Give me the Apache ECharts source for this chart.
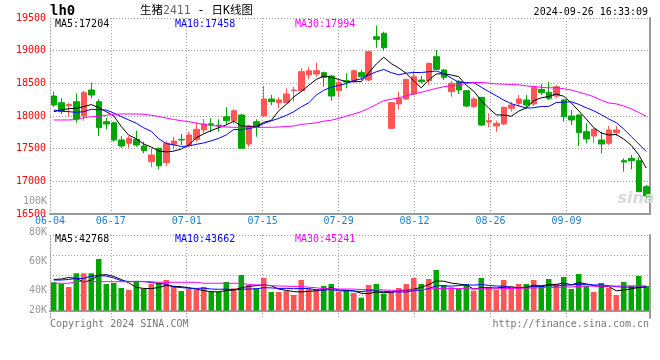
<!DOCTYPE html>
<html><head><meta charset="utf-8">
<script src="https://cdn.jsdelivr.net/npm/echarts@6/dist/echarts.min.js"></script>
<style>html,body{margin:0;padding:0;background:#fff}#c{width:660px;height:360px}</style>
</head><body><div id="c"></div><script>
const dates = ['06-04','06-05','06-06','06-07','06-11','06-12','06-13','06-14','06-17','06-18','06-19','06-20','06-21','06-24','06-25','06-26','06-27','06-28',
'07-01','07-02','07-03','07-04','07-05','07-08','07-09','07-10','07-11','07-12','07-15','07-16','07-17','07-18','07-19','07-22','07-23','07-24','07-25','07-26','07-29','07-30','07-31',
'08-01','08-02','08-05','08-06','08-07','08-08','08-09','08-12','08-13','08-14','08-15','08-16','08-19','08-20','08-21','08-22','08-23','08-26','08-27','08-28','08-29','08-30',
'09-02','09-03','09-04','09-05','09-06','09-09','09-10','09-11','09-12','09-13','09-18','09-19','09-20','09-23','09-24','09-25','09-26'];
const labelDates = ['06-04','06-17','07-01','07-15','07-29','08-12','08-26','09-09'];

const openP = [18306,18203,18160,18219,18000,18398,18219,17913,17897,17633,17582,17643,17541,17301,17506,17285,17566,17643,17556,17643,
17786,17880,17860,17989,17928,18015,17571,17913,18000,18260,18204,18204,18387,18387,18628,18643,18663,18612,18387,18540,
18531,18663,18551,19214,19266,17812,18184,18260,18337,18551,18540,18908,18704,18372,18525,18387,18143,18286,17908,17847,
17878,18118,18194,18245,18184,18408,18363,18306,18245,18000,18015,17760,17694,17633,17582,17745,17316,17352,17316,16918];
const closeP = [18168,18066,18175,17954,18357,18321,17821,17877,17633,17541,17658,17556,17469,17403,17239,17582,17617,17633,17709,17796,
17878,17870,17850,17928,18081,17506,17847,17827,18260,18219,18245,18337,18398,18678,18693,18693,18592,18306,18510,18520,
18693,18602,18984,19174,19045,18203,18271,18562,18601,18525,18806,18714,18592,18500,18398,18153,18260,17862,17928,17888,
18133,18168,18260,18168,18439,18357,18271,18448,17989,17939,17745,17648,17796,17571,17786,17786,17296,17316,16841,16776];
const lowP = [18142,18031,17989,17897,17928,18271,17694,17796,17607,17510,17515,17530,17429,17215,17184,17235,17490,17556,17530,17607,
17735,17755,17760,17862,17877,17506,17530,17683,17989,18168,18118,18194,18219,18372,18562,18601,18449,18234,18286,18424,
18513,18551,18536,19045,19000,17796,18102,18245,18321,18500,18474,18704,18551,18295,18337,18133,18118,17847,17827,17760,
17862,18066,18143,18118,18153,18321,18245,18271,17913,17862,17541,17582,17591,17429,17556,17694,17148,17184,16837,16725];
const highP = [18372,18271,18203,18347,18387,18510,18255,17969,17913,17694,17694,17775,17607,17506,17515,17617,17683,17724,17760,17897,
17949,17965,17950,18133,18103,18031,17862,17949,18459,18321,18286,18424,18448,18730,18755,18816,18678,18627,18551,18653,
18712,18704,19000,19382,19290,18214,18372,18566,18689,18612,18816,19010,18719,18536,18551,18398,18286,18290,18041,17928,
18143,18219,18321,18321,18459,18490,18525,18474,18260,18092,18031,17888,17816,17760,17847,17847,17352,17403,17368,16944];

const ma5 = [18066,18092,18112,18118,18144,18175,18126,18066,18002,17839,17706,17653,17571,17525,17465,17450,17462,17495,17556,17667,
17727,17777,17821,17864,17921,17847,17842,17838,17904,17932,18080,18178,18292,18375,18470,18560,18611,18592,18559,18524,
18524,18526,18662,18795,18900,18802,18735,18651,18536,18432,18553,18642,18648,18627,18602,18471,18381,18235,18120,18018,
18014,17996,18075,18123,18234,18278,18299,18337,18301,18201,18078,17954,17823,17740,17709,17717,17647,17551,17405,17203];
const ma10 = [18092,18077,18066,18057,18066,18103,18096,18092,18045,17991,17940,17889,17819,17764,17652,17578,17558,17533,17541,17566,
17588,17620,17658,17710,17794,17787,17810,17829,17884,17927,17963,18010,18065,18140,18201,18320,18394,18442,18467,18497,
18542,18569,18627,18677,18712,18663,18631,18656,18666,18666,18677,18689,18649,18582,18517,18512,18511,18441,18374,18310,
18243,18188,18155,18122,18126,18146,18147,18206,18212,18217,18178,18126,18080,18020,17955,17898,17800,17687,17572,17456];
const ma30 = [17939,17939,17939,17946,17974,17989,17995,18011,18026,18031,18031,18031,18026,18011,17992,17969,17946,17928,17913,17893,
17870,17855,17842,17832,17827,17827,17827,17827,17827,17828,17831,17840,17847,17871,17882,17895,17921,17935,17964,17997,
18031,18066,18117,18176,18236,18256,18278,18309,18339,18363,18394,18422,18447,18466,18477,18498,18512,18513,18502,18491,
18487,18482,18477,18460,18452,18440,18430,18435,18417,18398,18366,18334,18295,18241,18199,18185,18153,18111,18053,17994];

// volume, thousand lots
const volume = [47.7,44.8,39.7,62.9,62.9,62.9,87.0,44.8,46.5,38.0,34.6,48.2,36.3,44.8,47.0,51.5,41.4,33.0,36.3,34.6,
39.7,31.8,31.8,48.2,37.5,60.0,43.1,37.5,54.9,31.3,31.3,33.0,26.2,51.5,36.3,36.3,41.4,44.8,31.3,34.6,
29.6,21.6,43.1,44.8,28.4,30.8,38.0,44.8,54.9,44.8,53.2,68.4,43.1,39.2,36.8,44.8,33.5,54.9,39.2,34.6,
51.5,38.0,44.8,44.8,51.5,43.1,53.2,44.8,56.6,36.3,61.7,41.4,31.3,46.5,38.0,26.2,48.2,41.4,58.3,41.4];
const volMa5 = [52.4,53.2,55.8,54.1,48.2,51.2,59.7,60.7,57.5,52.4,46.8,39.0,37.3,37.0,38.9,42.3,40.9,40.2,38.5,36.0,
33.6,31.8,31.4,33.8,34.5,38.5,40.7,41.9,43.3,41.9,36.2,34.1,31.9,31.3,32.3,33.3,35.0,38.7,34.6,34.3,
33.0,29.1,28.7,31.4,30.1,30.4,33.6,34.0,36.0,39.2,43.8,49.9,49.5,46.3,44.8,43.1,36.2,38.5,38.5,38.0,
39.4,40.2,38.2,39.4,42.8,41.1,44.1,44.1,46.5,43.4,47.2,44.8,42.1,40.1,40.4,33.3,34.6,36.7,39.0,39.7];
const volMa10 = [51.5,51.5,52.4,54.1,54.1,58.3,58.8,58.3,54.9,50.4,49.0,49.3,49.0,47.2,45.6,44.4,39.9,38.7,37.7,37.3,
37.9,36.3,35.8,36.2,35.2,36.0,36.2,36.7,38.5,38.2,37.3,37.5,36.8,37.2,37.2,34.8,34.6,35.3,33.0,33.3,
33.1,31.9,33.6,33.0,32.3,31.6,31.3,31.3,33.6,34.6,37.0,41.7,41.7,41.2,42.1,43.4,42.9,43.9,42.4,41.4,
41.2,38.2,38.4,38.9,40.4,40.2,42.3,41.2,42.9,43.1,44.1,44.4,43.1,43.3,41.9,40.2,39.7,39.4,39.5,40.1];
const volMa30 = [46.0,46.0,46.0,48.7,48.7,48.7,48.7,48.7,48.7,48.7,48.7,48.7,48.7,48.7,47.7,47.7,47.7,47.7,47.7,47.7,
46.0,46.0,46.0,46.0,46.0,46.0,43.9,43.4,42.8,41.9,41.4,41.1,40.6,40.2,39.4,38.4,36.8,36.8,36.3,36.3,
36.2,35.3,35.5,35.5,34.8,34.1,34.0,34.5,35.0,35.3,35.8,37.0,37.5,37.2,37.2,36.7,36.3,36.8,36.3,36.5,
37.2,37.3,37.9,37.7,38.2,38.4,38.9,38.9,39.7,39.7,40.7,41.4,41.1,41.1,41.4,41.2,41.6,41.6,41.6,41.6];

const priceLegend = ['MA5:17204','MA10:17458','MA30:17994'];
const volLegend = ['MA5:42768','MA10:43662','MA30:45241'];
const volTickLabels = ['100K','80K','60K','40K','20K'];
const symbolText = 'lh0';
const titleName = '生猪', titleCode = '2411', titleTail = ' - 日K线图';
const stamp = '2024-09-26 16:33:09';
const copyright = 'Copyright 2024 SINA.COM';
const siteUrl = 'http://finance.sina.com.cn';

const MONO = "'DejaVu Sans Mono', 'Liberation Mono', monospace";
const RED = '#ff5555', GREEN = '#00a600';
const DOT = {color:'#a0a0a0', type:[1,2], width:1};
const showLabel = (i, v) => labelDates.indexOf(v) >= 0;

const kData = dates.map((d, i) => [openP[i], closeP[i], lowP[i], highP[i]]);
const volData = volume.map((v, i) => ({value: v, itemStyle: {color: closeP[i] >= openP[i] ? RED : GREEN}}));

function txt(x, y, text, fill, align, extra) {
  return {type:'text', x:x, y:y, silent:true, z:100,
    style:Object.assign({text:text, fill:fill, fontFamily:MONO, fontSize:10, align:align, verticalAlign:'middle'}, extra || {})};
}
const legendColors = ['#000000', '#0000ff', '#ff00ff'];
const legendX = [55, 175, 295];
const volTickY = [201, 232, 261, 290, 310];

const graphics = [
  txt(50, 11, symbolText, '#000', 'left', {fontSize:14, fontWeight:'bold'}),
  {type:'text', x:140, y:11, silent:true, z:100, style:{
    text:'{a|' + titleName + '}{b|' + titleCode + '}{a|' + titleTail + '}', align:'left', verticalAlign:'middle',
    rich:{a:{fontFamily:"'DejaVu Sans Mono','Noto Sans CJK SC'", fontSize:11.5, fill:'#000', color:'#000'},
          b:{fontFamily:MONO, fontSize:11.5, fill:'#666', color:'#666'}}}},
  txt(648, 12.5, stamp, '#000', 'right'),
  txt(50, 324, copyright, '#777', 'left'),
  txt(649, 324, siteUrl, '#777', 'right'),
  {type:'text', x:636, y:199, silent:true, z:50, style:{text:'sina', fill:'#d9d9d9', fontFamily:'DejaVu Sans', fontSize:16, fontWeight:'bold', fontStyle:'italic', align:'center', verticalAlign:'middle'}}
];
priceLegend.forEach((t, i) => graphics.push(txt(legendX[i], 24, t, legendColors[i], 'left')));
volLegend.forEach((t, i) => graphics.push(txt(legendX[i], 239.5, t, legendColors[i], 'left')));
volTickLabels.forEach((t, i) => graphics.push(txt(47, volTickY[i], t, '#999', 'right')));

const hiddenAxisParts = {axisTick:{show:false}, axisLabel:{show:false}, splitLine:{show:false}};

const option = {
  animation:false,
  backgroundColor:'#fff',
  textStyle:{fontFamily:MONO},
  grid:[
    {left:50, top:18, width:600, height:196, containLabel:false, outerBoundsMode:'none'},
    {left:50, top:235, width:600, height:83, containLabel:false, outerBoundsMode:'none'},
    {left:50, top:235, width:600, height:60, containLabel:false, outerBoundsMode:'none'}
  ],
  xAxis:[
    Object.assign({gridIndex:0, type:'category', data:dates, boundaryGap:true, axisLine:{show:true, lineStyle:{color:'#999', width:2}}}, hiddenAxisParts),
    {gridIndex:0, type:'category', data:dates, boundaryGap:false, position:'bottom',
     axisLine:{show:false}, axisTick:{show:false},
     axisLabel:{show:true, interval:showLabel, color:'#1a7fd0', fontFamily:MONO, fontSize:10, margin:2},
     splitLine:{show:true, interval:showLabel, lineStyle:DOT}},
    Object.assign({gridIndex:1, type:'category', data:dates, boundaryGap:true, axisLine:{show:true, lineStyle:{color:'#999', width:2}}}, hiddenAxisParts),
    {gridIndex:1, type:'category', data:dates, boundaryGap:false, position:'top',
     axisLine:{show:true, lineStyle:{color:'#999', width:2}}, axisTick:{show:false}, axisLabel:{show:false},
     splitLine:{show:true, interval:showLabel, lineStyle:DOT}},
    {gridIndex:2, type:'category', data:dates, show:false}
  ],
  yAxis:[
    {gridIndex:0, type:'value', min:16500, max:19500, interval:500,
     axisLine:{show:true, lineStyle:DOT}, axisTick:{show:false},
     axisLabel:{color:'#ff0000', fontFamily:MONO, fontSize:10, margin:4, padding:[0,0,4,0], formatter:(v) => String(v)},
     splitLine:{show:true, lineStyle:DOT}},
    Object.assign({gridIndex:0, type:'value', position:'right', min:16500, max:19500, axisLine:{show:true, lineStyle:{color:'#999', width:2}}}, hiddenAxisParts),
    Object.assign({gridIndex:1, type:'value', min:-12.675, max:127.595, axisLine:{show:true, lineStyle:DOT}}, hiddenAxisParts),
    Object.assign({gridIndex:1, type:'value', position:'right', min:-12.675, max:127.595, axisLine:{show:true, lineStyle:{color:'#999', width:2}}}, hiddenAxisParts),
    {gridIndex:2, type:'value', min:0, max:60, interval:20, axisLine:{show:false}, axisTick:{show:false}, axisLabel:{show:false},
     splitLine:{show:true, lineStyle:DOT}}
  ],
  series:[
    {type:'candlestick', xAxisIndex:0, yAxisIndex:0, data:kData, barWidth:6,
     itemStyle:{color:RED, color0:GREEN, borderColor:RED, borderColor0:GREEN, borderWidth:1}},
    {type:'line', xAxisIndex:0, yAxisIndex:0, data:ma5, symbol:'none', lineStyle:{color:'#000', width:1}, itemStyle:{color:'#000'}},
    {type:'line', xAxisIndex:0, yAxisIndex:0, data:ma10, symbol:'none', lineStyle:{color:'#0000ff', width:1}, itemStyle:{color:'#0000ff'}},
    {type:'line', xAxisIndex:0, yAxisIndex:0, data:ma30, symbol:'none', lineStyle:{color:'#ff00ff', width:1}, itemStyle:{color:'#ff00ff'}},
    {type:'bar', xAxisIndex:2, yAxisIndex:2, data:volData, barWidth:5.5},
    {type:'line', xAxisIndex:2, yAxisIndex:2, data:volMa5, symbol:'none', lineStyle:{color:'#000', width:1}, itemStyle:{color:'#000'}},
    {type:'line', xAxisIndex:2, yAxisIndex:2, data:volMa10, symbol:'none', lineStyle:{color:'#0000ff', width:1}, itemStyle:{color:'#0000ff'}},
    {type:'line', xAxisIndex:2, yAxisIndex:2, data:volMa30, symbol:'none', lineStyle:{color:'#ff00ff', width:1}, itemStyle:{color:'#ff00ff'}}
  ],
  graphic:graphics
};
const chart = echarts.init(document.getElementById('c'), null, {renderer:'canvas'});
chart.setOption(option);
</script></body></html>
